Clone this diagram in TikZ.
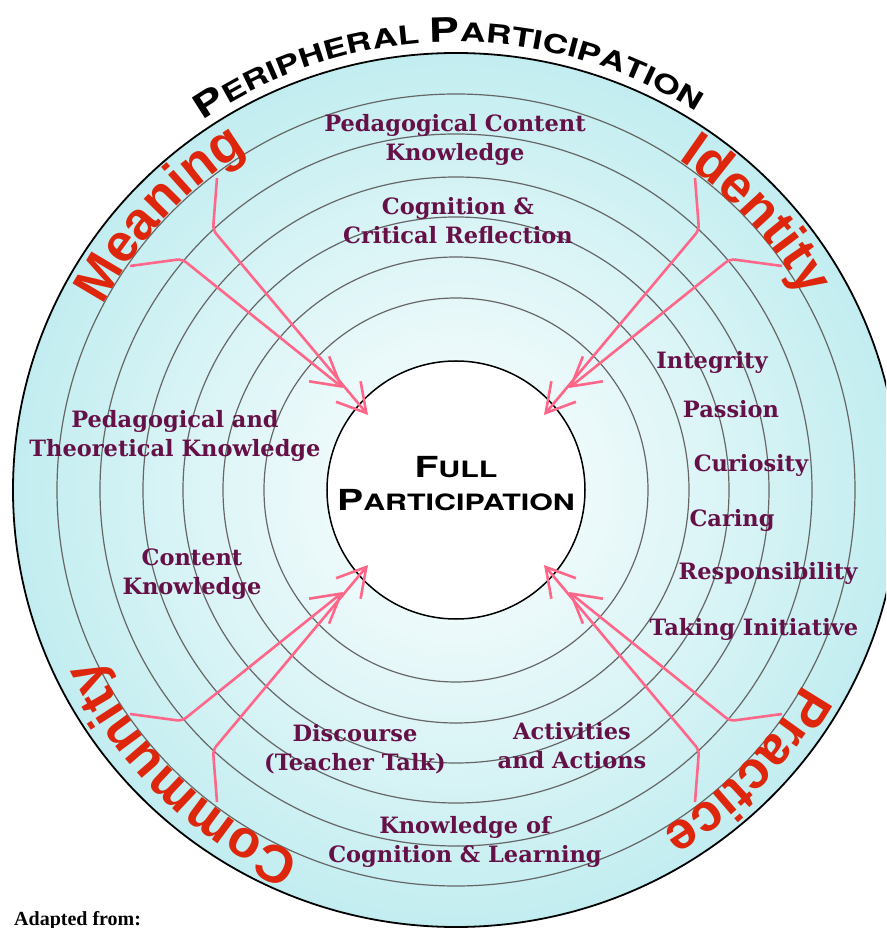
\documentclass[tikz,border=0pt]{standalone}
\usepackage{fontspec}
\usepackage{xcolor}
\usetikzlibrary{arrows.meta, decorations.text}

\newfontfamily\labelfont{DejaVu Serif}
\newfontfamily\widefont[FakeStretch=1.35]{TeX Gyre Heros}
\newfontfamily\wordfont{Liberation Sans}
\newfontfamily\notefont{Liberation Serif}

\definecolor{ringcyan}{RGB}{194,237,240}
\definecolor{labelpurple}{RGB}{102,16,72}
\definecolor{wordred}{RGB}{222,38,12}
\definecolor{pinkline}{RGB}{255,102,136}

\newcommand{\redword}{\wordfont\bfseries\fontsize{53}{53}\selectfont\color{wordred}}
\newcommand{\capbig}{\widefont\bfseries\fontsize{33.5}{33.5}\selectfont}
\newcommand{\capsmall}{\widefont\bfseries\fontsize{26}{26}\selectfont}

\begin{document}
\begin{tikzpicture}[
    x=1pt, y=1pt,
    ring/.style={draw=black!60, line width=1.2pt},
    theme/.style={font=\labelfont\bfseries\fontsize{22.5}{29}\selectfont, text=labelpurple, align=center, inner sep=0pt},
    pinkarrow/.style={draw=pinkline, line width=2.6pt, rounded corners=5pt, -{Straight Barb[length=28pt, width=32pt]}},
    redarc/.style={decorate, decoration={text along path, text align=center, text={|\redword|#1}}}
]
\useasboundingbox (-456,-438) rectangle (430,490);
\clip (-456,-438) rectangle (430,490);
\coordinate (c) at (0,0);

% disc and rings
\shade[inner color=white, outer color=ringcyan] (c) ellipse[x radius=443, y radius=437];
\draw[ring] (c) circle[radius=192];
\draw[ring] (c) circle[radius=233];
\draw[ring] (c) circle[radius=273];
\draw[ring] (c) circle[radius=313];
\draw[ring] (c) circle[radius=356];
\draw[ring] (c) ellipse[x radius=399, y radius=396];
\draw[black, line width=1.8pt] (c) ellipse[x radius=443, y radius=437];

\node[circle, draw=black, line width=1.5pt, fill=white, minimum size=258pt, inner sep=0pt] (full) at (c) {};
\node[font=\widefont\bfseries\fontsize{22.5}{33}\selectfont, align=center, inner sep=0pt] (fulltext) at ([yshift=6pt]full.center)
    {{\fontsize{29}{33}\selectfont F}ULL\\{\fontsize{29}{33}\selectfont P}ARTICIPATION};

% ring labels
\node[theme] (pck) at (-1,350) {Pedagogical Content\\Knowledge};
\node[theme] (ccr) at (2,269) {Cognition \&\\Critical Reflection};
\node[theme] (ptk) at (-281,54) {Pedagogical and\\Theoretical Knowledge};
\node[theme] (ck) at (-264,-84) {Content\\Knowledge};
\node[theme] (integrity) at (256,128) {Integrity};
\node[theme] (passion) at (275,81) {Passion};
\node[theme] (curiosity) at (295,25) {Curiosity};
\node[theme] (caring) at (276,-30) {Caring};
\node[theme] (resp) at (312,-83) {Responsibility};
\node[theme] (taking) at (298,-139) {Taking Initiative};
\node[theme] (disc) at (-101,-259) {Discourse\\(Teacher Talk)};
\node[theme] (act) at (116,-256) {Activities\\and Actions};
\node[theme] (kcl) at (9,-352) {Knowledge of\\Cognition \& Learning};

% red words along the outer band
\path[redarc=Meaning] (167:398) arc[start angle=167, end angle=107, radius=398];
\path[redarc=Identity] (72.5:398) arc[start angle=72.5, end angle=12.5, radius=398];
\path[redarc=Community] (256:398) arc[start angle=256, end angle=196, radius=398];
\path[redarc=Practice] (346:398) arc[start angle=346, end angle=286, radius=398];

% pink arrows
\coordinate (mea1) at (-239,312);
\coordinate (mea2) at (-326,224);
\coordinate (ide1) at (239,312);
\coordinate (ide2) at (326,224);
\coordinate (com1) at (-239,-312);
\coordinate (com2) at (-326,-224);
\coordinate (pra1) at (239,-312);
\coordinate (pra2) at (326,-224);
\coordinate (tipmea1) at (-88,75);
\coordinate (tipmea2) at (-113,102);
\coordinate (tipide1) at (88,75);
\coordinate (tipide2) at (113,102);
\coordinate (tipcom1) at (-88,-75);
\coordinate (tipcom2) at (-113,-102);
\coordinate (tippra1) at (88,-75);
\coordinate (tippra2) at (113,-102);

\draw[pinkarrow] (mea1) -- (-243,260) -- (tipmea1);
\draw[pinkarrow] (mea2) -- (-274,231) -- (tipmea2);
\draw[pinkarrow] (ide1) -- (243,260) -- (tipide1);
\draw[pinkarrow] (ide2) -- (274,231) -- (tipide2);
\draw[pinkarrow] (com1) -- (-243,-260) -- (tipcom1);
\draw[pinkarrow] (com2) -- (-274,-231) -- (tipcom2);
\draw[pinkarrow] (pra1) -- (243,-260) -- (tippra1);
\draw[pinkarrow] (pra2) -- (274,-231) -- (tippra2);

% title along the top
\path[decorate, decoration={text along path, text align=center,
    text={|\capbig|P|\capsmall|ERIPHERAL |\capbig|P|\capsmall|ARTICIPATION}}]
    (131:448) arc[start angle=131, end angle=51, radius=448];

\node[font=\notefont\bfseries\fontsize{20}{20}\selectfont, anchor=base west, inner sep=0pt] (adapted) at (-442,-435) {Adapted from:};
\end{tikzpicture}
\end{document}
